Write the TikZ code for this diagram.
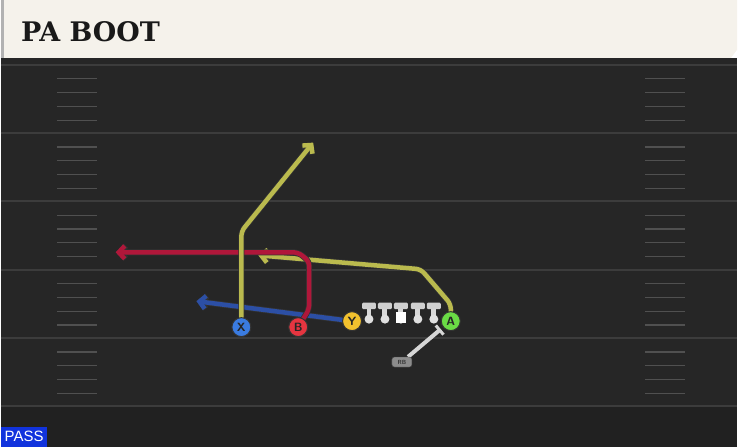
\documentclass[tikz,border=0pt]{standalone}
\usepackage{fontspec}
\setmainfont{DejaVu Sans}
\newfontfamily\titlefont{DejaVu Serif}
\newfontfamily\tagfont{Liberation Sans}
\usetikzlibrary{arrows.meta}

\definecolor{cream}{HTML}{F5F2EB}
\definecolor{turf}{HTML}{262626}
\definecolor{turfdark}{HTML}{212121}
\definecolor{yardgrey}{HTML}{3C3C3C}
\definecolor{olive}{HTML}{BABA4E}
\definecolor{routered}{HTML}{B0173A}
\definecolor{routeblue}{HTML}{2C4FA5}
\definecolor{xblue}{HTML}{3A7BE0}
\definecolor{bred}{HTML}{E53540}
\definecolor{yyellow}{HTML}{F2C12E}
\definecolor{agreen}{HTML}{6ADB45}
\definecolor{olgrey}{HTML}{CFCFCF}
\definecolor{rbgrey}{HTML}{8C8C8C}
\definecolor{passblue}{HTML}{1133DD}

\pgfdeclarelayer{field}
\pgfdeclarelayer{routes}
\pgfsetlayers{field,routes,main}

\begin{document}
\begin{tikzpicture}[x=1pt,y=-1pt,
    route/.style={line width=4.5pt, rounded corners=5pt, line cap=round, line join=round,
        -{Straight Barb[length=6pt,width=13pt]},
        preaction={draw=black!80, line width=6pt}},
    player/.style={circle, draw=black!80, line width=1pt, minimum size=19pt, inner sep=0pt,
        font=\sffamily\bfseries\fontsize{12}{12}\selectfont, text=black!85},
    hashmark/.style={draw=yardgrey!90, line width=1.3pt}]

    % field and title bar
    \begin{pgfonlayer}{field}
    \fill[turf] (0,59) rectangle (738,448);
    \fill[turfdark] (0,408) rectangle (738,448);
    \fill[black!85] (0,58) rectangle (738,63);
    \fill[cream] (0,0) -- (738,0) -- (738,50) -- (732,58) -- (0,58) -- cycle;
    \fill[black!30] (0,0) rectangle (3,58);
    \foreach \y in {65,133.5,202,270.5,339,407.5} {
        \draw[yardgrey, line width=2pt] (0,\y) -- (738,\y);
    }
    \foreach \y in {65,133.5,202,270.5,339} {
        \foreach \d in {14,27.5,41.5,55.5} {
            \draw[hashmark] (56,\y+\d) -- (96,\y+\d);
            \draw[hashmark] (646,\y+\d) -- (686,\y+\d);
        }
    }
    \end{pgfonlayer}
    \node[anchor=base west, inner sep=0pt, font=\titlefont\bfseries\fontsize{27}{27}\selectfont, text=black!90] (title) at (20,42) {PA BOOT};

    % offensive line
    \foreach \x in {369,385,401,418,434} {
        \fill[olgrey!80] (\x-2.5,308) rectangle (\x+2.5,319);
        \fill[olgrey!65] (\x,320) circle (4.5);
        \fill[olgrey, rounded corners=1.2pt] (\x-7,303.5) rectangle (\x+7,310);
    }
    \fill[white] (396,313) rectangle (406,324);

    % players
    \node[player, fill=xblue] (X) at (241,328) {X};
    \node[player, fill=bred] (B) at (298,328) {B};
    \node[player, fill=yyellow] (Y) at (352,322) {Y};
    \node[player, fill=agreen] (A) at (451,322) {A};
    \node[fill=rbgrey, draw=black!70, rounded corners=2.5pt, minimum width=20pt, minimum height=10pt,
        inner sep=0pt, font=\sffamily\bfseries\fontsize{6}{6}\selectfont, text=black!80] (RB) at (402,363) {RB};

    % route points
    \coordinate (xbend) at (241,232);
    \coordinate (xend) at (313,143);
    \coordinate (abend1) at (451,305);
    \coordinate (abend2) at (421,270);
    \coordinate (aend) at (258,256);
    \coordinate (bbend1) at (309,310);
    \coordinate (bbend2) at (309,262);
    \coordinate (bbend3) at (298,253);
    \coordinate (bend) at (115,253);
    \coordinate (yend) at (196,302);
    \coordinate (rbend) at (441,330);

    % routes
    \begin{pgfonlayer}{routes}
    \draw[route, routeblue] (Y) -- (yend);
    \draw[route, olive] (A) -- (abend1) -- (abend2) -- (aend);
    \draw[route, routered] (B) -- (bbend1) -- (bbend2) -- (bbend3) -- (bend);
    \draw[route, olive] (X) -- (xbend) -- (xend);
    \draw[line width=4pt, olgrey!85, -{Bar[width=12pt,line width=3pt]}] (RB) -- (rbend);
    \end{pgfonlayer}

    % play type tag
    \node[anchor=south west, fill=passblue, text=white, inner sep=0pt, minimum width=46pt, minimum height=20pt,
        font=\tagfont\fontsize{15}{15}\selectfont] (tag) at (0,448) {PASS};
\end{tikzpicture}
\end{document}
